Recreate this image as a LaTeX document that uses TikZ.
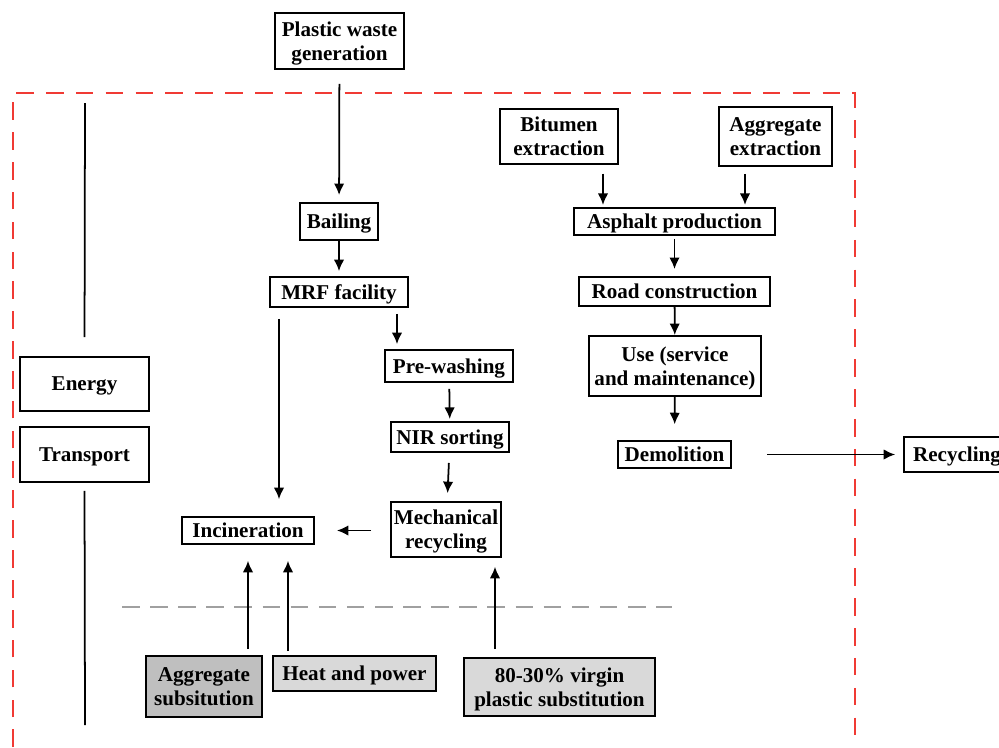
\documentclass[tikz,border=0pt]{standalone}
\usepackage{fontspec}
\setmainfont{Liberation Serif}
\usetikzlibrary{arrows.meta}
\definecolor{boundRed}{RGB}{240,58,52}
\definecolor{subDark}{RGB}{191,191,191}
\definecolor{subLight}{RGB}{217,217,217}
\definecolor{sepGray}{RGB}{160,160,160}

\begin{document}
\begin{tikzpicture}[x=0.02cm, y=-0.02cm,
	stageBox/.style={rectangle, draw=black, line width=1.1pt, inner sep=1pt, text depth=0pt, align=center, font=\fontsize{12}{13.6}\selectfont\bfseries},
	flow/.style={-{Latex[length=2.3mm,width=2.1mm]}, line width=1pt}]
		\useasboundingbox (0,0) rectangle (999,747);
		\clip (0,0) rectangle (999,747);

		% system boundary
		\draw[boundRed, line width=1.1pt, dash pattern=on 10pt off 7pt] (13,747) -- (13,93) -- (855,93) -- (855,747);
		\draw[sepGray, line width=1.1pt, dash pattern=on 10pt off 6pt] (122,607) -- (672,607);

		% plastic route
		\node[stageBox, minimum width=2.58cm, minimum height=1.12cm](plasticBox) at (339.5,41){Plastic waste\\generation};
		\node[stageBox, minimum width=1.56cm, minimum height=0.74cm](bailingBox) at (339,221.5){Bailing};
		\node[stageBox, minimum width=2.76cm, minimum height=0.60cm](mrfBox) at (339,292){MRF facility};
		\node[stageBox, minimum width=2.56cm, minimum height=0.64cm](prewashBox) at (449,366){Pre-washing};
		\node[stageBox, minimum width=2.36cm, minimum height=0.60cm](nirBox) at (450,437){NIR sorting};
		\node[stageBox, minimum width=2.20cm, minimum height=1.10cm](mechBox) at (446,529.5){Mechanical\\recycling};
		\node[stageBox, minimum width=2.64cm, minimum height=0.54cm](incinBox) at (248,530.5){Incineration};

		% background boxes
		\node[stageBox, minimum width=2.58cm, minimum height=1.08cm](energyBox) at (84.5,384){Energy};
		\node[stageBox, minimum width=2.58cm, minimum height=1.10cm](transportBox) at (84.5,454.5){Transport};
		\coordinate (lineTop) at (85,103);
		\coordinate (lineBot) at (85,725);

		% substitution boxes
		\node[stageBox, fill=subDark, minimum width=2.32cm, minimum height=1.22cm](aggSubBox) at (204,686.5){Aggregate\\subsitution};
		\node[stageBox, fill=subLight, minimum width=3.26cm, minimum height=0.70cm](heatBox) at (354.5,673.5){Heat and power};
		\node[stageBox, fill=subLight, minimum width=3.82cm, minimum height=1.16cm](virginBox) at (559.5,687){80-30\% virgin\\plastic substitution};

		% asphalt route
		\node[stageBox, minimum width=2.36cm, minimum height=1.10cm](bitumenBox) at (559,136.5){Bitumen\\extraction};
		\node[stageBox, minimum width=2.26cm, minimum height=1.18cm](aggExtBox) at (775.5,136.5){Aggregate\\extraction};
		\node[stageBox, minimum width=4.02cm, minimum height=0.54cm](asphaltBox) at (674.5,221.5){Asphalt production};
		\node[stageBox, minimum width=3.82cm, minimum height=0.58cm](roadBox) at (674.5,291.5){Road construction};
		\node[stageBox, minimum width=3.44cm, minimum height=1.20cm](useBox) at (675,366){Use (service\\and maintenance)};
		\node[stageBox, minimum width=2.26cm, minimum height=0.54cm](demolitionBox) at (674.5,454.5){Demolition};
		\node[stageBox, minimum width=2.12cm, minimum height=0.70cm](recyclingBox) at (957,454.5){Recycling};

		% draw background lines
		\draw[line width=1pt, shorten >=10.8pt] (lineTop) -- (energyBox.north);
		\draw[line width=1pt, shorten <=4.5pt] (transportBox.south) -- (lineBot);

		% draw plastic edges
		\draw[flow, shorten <=7.9pt, shorten >=4pt] (plasticBox) -- (bailingBox);
		\draw[flow, shorten >=2.8pt] (bailingBox) -- (mrfBox);
		\draw[flow, shorten <=6.2pt, shorten >=9.6pt] ([xshift=-1.2cm]mrfBox.south) -- ([xshift=-1.2cm]mrfBox.south |- incinBox.north);
		\draw[flow, shorten <=3.4pt, shorten >=2.8pt] ([xshift=1.16cm]mrfBox.south) -- ([xshift=1.16cm]mrfBox.south |- prewashBox.north);
		\draw[flow, shorten <=3.4pt, shorten >=1.2pt] (prewashBox) -- (nirBox);
		\draw[flow, shorten <=5.7pt, shorten >=4.5pt] (nirBox) -- (mechBox);
		\draw[flow, shorten <=10.8pt, shorten >=12.5pt] (mechBox.west |- incinBox.east) -- (incinBox.east);

		% draw substitution edges
		\draw[flow, shorten <=3.4pt, shorten >=9pt] (incinBox.south |- aggSubBox.north) -- (incinBox.south);
		\draw[flow, shorten <=2.3pt, shorten >=9pt] ([xshift=0.8cm]incinBox.south |- heatBox.north) -- ([xshift=0.8cm]incinBox.south);
		\draw[flow, shorten <=4.5pt, shorten >=5pt] ([xshift=0.98cm]mechBox.south |- virginBox.north) -- ([xshift=0.98cm]mechBox.south);

		% draw asphalt edges
		\draw[flow, shorten <=5pt, shorten >=1.2pt] ([xshift=0.88cm]bitumenBox.south) -- ([xshift=0.88cm]bitumenBox.south |- asphaltBox.north);
		\draw[flow, shorten <=4pt, shorten >=1.2pt] ([xshift=-0.61cm]aggExtBox.south) -- ([xshift=-0.61cm]aggExtBox.south |- asphaltBox.north);
		\draw[flow, shorten <=1.7pt, shorten >=4pt] (asphaltBox) -- (roadBox);
		\draw[flow] (roadBox) -- (useBox);
		\draw[flow, shorten >=9pt] (useBox) -- (demolitionBox);
		\draw[flow, shorten <=20pt, shorten >=4.5pt] (demolitionBox) -- (recyclingBox);
	\end{tikzpicture}
\end{document}
